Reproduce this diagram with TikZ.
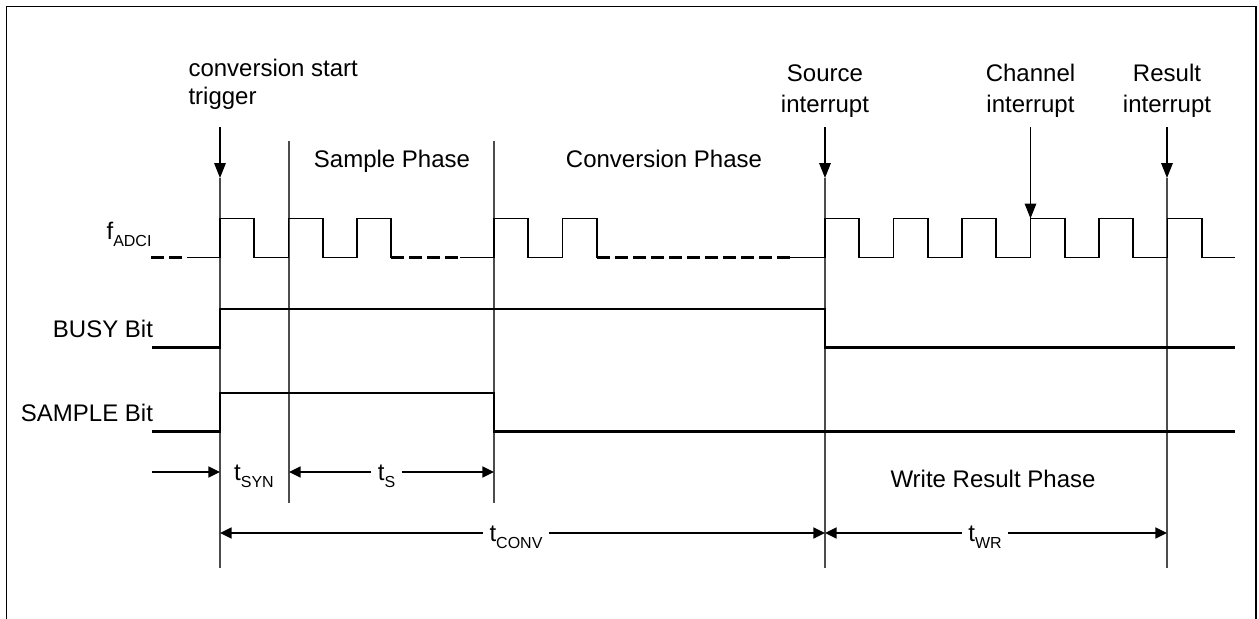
\documentclass[tikz,border=0pt]{standalone}
\usepackage{fontspec}
\setmainfont{Liberation Sans}
\usepackage{tikz}
\usetikzlibrary{arrows.meta, positioning}
\tikzset{every picture/.style={line width=0.6pt}}
\newcommand{\tsub}[1]{\raisebox{-4.2pt}{\fontsize{9.1}{10}\selectfont #1}}

\begin{document}
\begin{tikzpicture}[x=0.02cm, y=-0.02cm, font=\fontsize{13.66}{16.2}\selectfont,
        frame/.style={line width=1.1pt},
        guide/.style={line width=0.6pt, black!70},
        clk/.style={line width=0.95pt},
        gap/.style={line width=1.8pt, dash pattern=on 7.4pt off 2.85pt},
        bit/.style={line width=1.55pt},
        pointer/.style={line width=0.7pt, -{Triangle[length=8.5pt,width=6.6pt]}},
        dim/.style={line width=0.95pt, -{Triangle[length=6.6pt,width=6.2pt]}},
        event/.style={align=center, inner sep=0pt, anchor=south, font=\fontsize{13.66}{17.9}\selectfont},
        sig/.style={anchor=base east, inner sep=0pt},
        tlabel/.style={anchor=base, inner xsep=3.5pt}]
    \useasboundingbox (0,0) rectangle (1259,619);
    \draw[frame] (6.5,619) -- (6.5,6.5) -- (1256,6.5) -- (1256,619);

    % events
    \node[align=left, inner sep=0pt, anchor=south west] (trig) at (188,110) {conversion start\\trigger};
    \node[event] (src) at (825,118) {Source\\interrupt};
    \node[event] (chn) at (1030.5,118) {Channel\\interrupt};
    \node[event] (res) at (1167,118) {Result\\interrupt};
    \coordinate (trig-a) at (220,127);  \coordinate (trig-b) at (220,178);
    \coordinate (src-a) at (825,127);   \coordinate (src-b) at (825,178);
    \coordinate (chn-a) at (1030.5,127); \coordinate (chn-b) at (1030.5,218.5);
    \coordinate (res-a) at (1167,127);  \coordinate (res-b) at (1167,178);
    \draw[pointer] (trig-a) -- (trig-b);
    \draw[pointer] (src-a) -- (src-b);
    \draw[pointer] (chn-a) -- (chn-b);
    \draw[pointer] (res-a) -- (res-b);

    % guide lines
    \draw[guide] (trig-b) -- (220,568);
    \draw[guide] (289,141) -- (289,503);
    \draw[guide] (494,141) -- (494,503);
    \draw[guide] (src-b) -- (825,568);
    \draw[guide] (res-b) -- (1167,568);

    \node[anchor=base] (sph) at (392,167) {Sample Phase};
    \node[anchor=base] (cph) at (664,167) {Conversion Phase};
    \node[anchor=base] (wph) at (993,487) {Write Result Phase};

    % signals
    \node[sig] (fclk) at (152,239) {f\tsub{ADCI}};
    \node[sig] (busy) at (153.5,337) {BUSY Bit};
    \node[sig] (smp) at (153.5,421) {SAMPLE Bit};

    \def\yl{257.5}
    \def\yh{218.5}
    \draw[gap] (151,\yl) -- (182,\yl);
    \draw[clk] (187,\yl) \foreach \k in {0,1,2} {
        -- ({220+68.5*\k},\yl) -- ({220+68.5*\k},\yh) -- ({254.25+68.5*\k},\yh) -- ({254.25+68.5*\k},\yl)};
    \draw[gap] (391.25,\yl) -- (460,\yl);
    \draw[clk] (460,\yl) \foreach \k in {0,1} {
        -- ({494+68.5*\k},\yl) -- ({494+68.5*\k},\yh) -- ({528.25+68.5*\k},\yh) -- ({528.25+68.5*\k},\yl)};
    \draw[gap] (596.75,\yl) -- (790,\yl);
    \draw[clk] (790,\yl) \foreach \k in {0,...,5} {
        -- ({825+68.5*\k},\yl) -- ({825+68.5*\k},\yh) -- ({859.25+68.5*\k},\yh) -- ({859.25+68.5*\k},\yl)} -- (1235,\yl);

    \draw[bit] (152,347.7) -- (220,347.7) -- (220,309) -- (825,309) -- (825,347.7) -- (1235,347.7);
    \draw[bit] (152,431.7) -- (220,431.7) -- (220,393) -- (494,393) -- (494,431.7) -- (1235,431.7);

    % timing
    \coordinate (syn-a) at (152,472); \coordinate (syn-b) at (220,472);
    \coordinate (s-a) at (289,472);   \coordinate (s-b) at (494,472);
    \coordinate (conv-a) at (220,533); \coordinate (conv-b) at (825,533);
    \coordinate (wr-a) at (825,533);  \coordinate (wr-b) at (1167,533);
    \node[tlabel] (tsyn) at (254,480) {t\tsub{SYN}};
    \node[tlabel] (ts) at (386.5,480) {t\tsub{S}};
    \node[tlabel] (tconv) at (516,541) {t\tsub{CONV}};
    \node[tlabel] (twr) at (985,541) {t\tsub{WR}};
    \draw[dim] (syn-a) -- (syn-b);
    \draw[dim] (ts.west |- s-a) -- (s-a);
    \draw[dim] (ts.east |- s-b) -- (s-b);
    \draw[dim] (tconv.west |- conv-a) -- (conv-a);
    \draw[dim] (tconv.east |- conv-b) -- (conv-b);
    \draw[dim] (twr.west |- wr-a) -- (wr-a);
    \draw[dim] (twr.east |- wr-b) -- (wr-b);
\end{tikzpicture}
\end{document}
